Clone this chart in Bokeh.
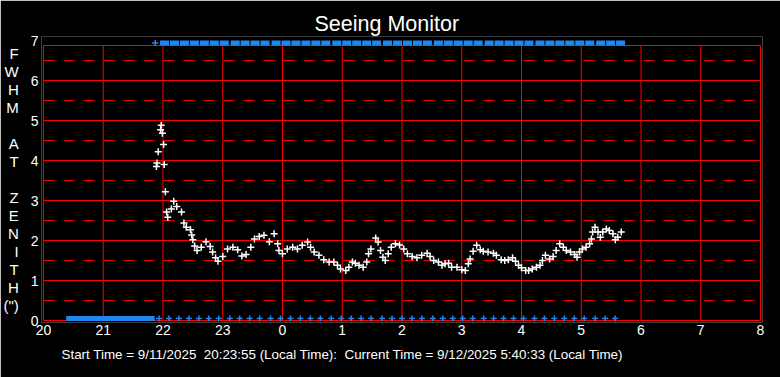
from bokeh.plotting import figure
from bokeh.models import Range1d, FixedTicker, Title
from bokeh.embed import file_html
from bokeh.resources import INLINE

# ---------------- data ----------------
# seeing measurements: local time in hours (24 = midnight, 25 = 1 am ...) and FWHM at zenith (arcsec)
seeing_hours = [
    21.89, 21.90, 21.92, 21.96, 21.97, 21.99, 22.01, 22.02, 22.04, 22.06,
    22.08, 22.14, 22.18, 22.23, 22.31, 22.35, 22.39, 22.46, 22.48, 22.50,
    22.53, 22.57, 22.64, 22.72, 22.79, 22.83, 22.88, 22.92, 23.00, 23.08,
    23.17, 23.25, 23.32, 23.39, 23.47, 23.53, 23.61, 23.69, 23.78, 23.86,
    23.92, 23.94, 24.00, 24.08, 24.17, 24.25, 24.33, 24.42, 24.47, 24.53,
    24.61, 24.69, 24.78, 24.86, 24.92, 24.97, 25.06, 25.11, 25.17, 25.22,
    25.28, 25.35, 25.41, 25.44, 25.48, 25.56, 25.60, 25.64, 25.68, 25.72,
    25.77, 25.82, 25.89, 25.96, 26.03, 26.09, 26.17, 26.25, 26.33, 26.42,
    26.47, 26.53, 26.61, 26.67, 26.72, 26.78, 26.83, 26.92, 27.00, 27.06,
    27.11, 27.14, 27.19, 27.25, 27.31, 27.36, 27.44, 27.53, 27.58, 27.66,
    27.72, 27.78, 27.85, 27.90, 27.95, 28.00, 28.07, 28.12, 28.18, 28.25,
    28.31, 28.35, 28.40, 28.47, 28.53, 28.58, 28.64, 28.70, 28.75, 28.82,
    28.89, 28.93, 28.97, 29.02, 29.08, 29.14, 29.17, 29.19, 29.23, 29.28,
    29.32, 29.36, 29.42, 29.47, 29.53, 29.57, 29.61, 29.67,
]
seeing_fwhm = [
    3.85, 3.94, 4.22, 4.77, 4.88, 4.68, 4.40, 3.90, 3.22, 2.71,
    2.58, 2.79, 2.98, 2.85, 2.71, 2.44, 2.33, 2.27, 2.14, 2.02,
    1.86, 1.75, 1.83, 1.97, 1.85, 1.71, 1.57, 1.48, 1.60, 1.79,
    1.83, 1.77, 1.61, 1.65, 1.83, 2.04, 2.10, 2.13, 1.97, 2.17,
    1.92, 1.75, 1.67, 1.79, 1.83, 1.79, 1.88, 1.96, 1.83, 1.71,
    1.63, 1.52, 1.46, 1.46, 1.38, 1.29, 1.25, 1.33, 1.46, 1.43,
    1.38, 1.33, 1.46, 1.67, 1.79, 2.06, 1.96, 1.75, 1.58, 1.50,
    1.67, 1.83, 1.92, 1.89, 1.79, 1.67, 1.60, 1.57, 1.63, 1.68,
    1.60, 1.50, 1.46, 1.38, 1.42, 1.43, 1.33, 1.33, 1.27, 1.25,
    1.42, 1.54, 1.73, 1.88, 1.77, 1.73, 1.71, 1.68, 1.63, 1.52,
    1.50, 1.52, 1.57, 1.48, 1.38, 1.32, 1.25, 1.25, 1.29, 1.33,
    1.38, 1.50, 1.63, 1.54, 1.60, 1.75, 1.92, 1.83, 1.75, 1.71,
    1.65, 1.58, 1.71, 1.79, 1.83, 1.92, 2.04, 2.21, 2.33, 2.21,
    2.08, 2.21, 2.29, 2.25, 2.17, 2.02, 2.08, 2.21,
]

# status samples (minutes after 20:00), shown as blue markers on the bottom and top rows
status_minutes = [
    116, 126, 136, 146, 156, 166, 176, 187, 197, 207, 217, 228, 238, 248, 258, 268,
    278, 289, 299, 309, 319, 329, 340, 350, 360, 370, 380, 391, 401, 411, 421, 431,
    442, 452, 462, 472, 482, 493, 503, 513, 523, 533, 543, 554, 564, 574,
]
dense_start_hour = 20.38   # continuous bottom bar (before the first measurement)
dense_end_hour = 21.86
top_first_hour = 21.87

x_ticks = list(range(20, 33))
x_tick_labels = {t: str(t % 24) for t in x_ticks}
y_ticks = list(range(0, 8))

title_text = "Seeing Monitor"
footer_text = ("Start Time = 9/11/2025\u00a0 20:23:55 (Local Time):\u00a0 "
               "Current Time = 9/12/2025 5:40:33 (Local Time)")
y_label_text = "F\nW\nH\nM\n \nA\nT\n \nZ\nE\nN\nI\nT\nH\n(\")"

# ---------------- styling ----------------
FONT = "Liberation Sans"
RED = "#ff0000"
BLUE = "#1e88f0"
TOP = 6.875

p = figure(width=780, height=377, output_backend="svg", toolbar_location=None,
           x_range=Range1d(20 - 2 / 60, 32 + 2 / 60),
           y_range=Range1d(-0.05, 7.1),
           min_border_left=38, min_border_right=18, min_border_top=36, min_border_bottom=55)
p.background_fill_color = "black"
p.border_fill_color = "black"
p.outline_line_color = None
p.xgrid.visible = False
p.ygrid.visible = False

# grid / frame lines
vx = list(range(20, 33))
p.segment(x0=vx, y0=[0] * len(vx), x1=vx, y1=[TOP] * len(vx), line_color=RED, line_width=1)
hy = [0, 1, 2, 3, 4, 5, 6, TOP]
p.segment(x0=[20] * len(hy), y0=hy, x1=[32] * len(hy), y1=hy, line_color=RED, line_width=1)
dy = [0.5 + i for i in range(7)]
p.segment(x0=[20] * len(dy), y0=dy, x1=[32] * len(dy), y1=dy, line_color=RED,
          line_width=1, line_dash="11 9")

# status markers
status_hours = [20 + m / 60 for m in status_minutes]
p.quad(left=[dense_start_hour], right=[dense_end_hour], bottom=[-0.0125], top=[0.1125],
       fill_color=BLUE, line_color=None)
p.scatter(status_hours, [0.05] * len(status_hours), marker="cross", size=6,
          line_color=BLUE, line_width=1.5)
p.rect(x=[h + 5.5 / 60 for h in status_hours], y=[6.94] * len(status_hours),
       width=9, height=5, width_units="screen", height_units="screen",
       fill_color=BLUE, line_color=None)
p.scatter([top_first_hour], [6.94], marker="cross", size=6, line_color=BLUE, line_width=1.5)

# seeing data
p.scatter(seeing_hours, seeing_fwhm, marker="cross", size=7, line_color="white", line_width=1.5)

# axes
for ax in (p.xaxis[0], p.yaxis[0]):
    ax.axis_line_color = None
    ax.major_tick_line_color = None
    ax.minor_tick_line_color = None
    ax.major_tick_out = 0
    ax.major_tick_in = 0
    ax.major_label_text_color = "white"
    ax.major_label_text_font = FONT
    ax.major_label_text_font_size = "14px"

p.xaxis[0].ticker = FixedTicker(ticks=x_ticks)
p.xaxis[0].major_label_overrides = x_tick_labels
p.xaxis[0].major_label_standoff = 2
p.yaxis[0].ticker = FixedTicker(ticks=y_ticks)
p.yaxis[0].major_label_standoff = 3
p.yaxis[0].axis_label = y_label_text
p.yaxis[0].axis_label_orientation = "horizontal"
p.yaxis[0].axis_label_text_color = "white"
p.yaxis[0].axis_label_text_font = FONT
p.yaxis[0].axis_label_text_font_size = "15px"
p.yaxis[0].axis_label_text_font_style = "normal"
p.yaxis[0].axis_label_standoff = 9
p.yaxis[0].axis_label_text_line_height = 1.06

p.title.text = title_text
p.title.text_color = "white"
p.title.text_font = FONT
p.title.text_font_size = "21.5px"
p.title.text_font_style = "normal"
p.title.align = "left"
p.title.offset = 273
p.title.standoff = 2

footer = Title(text=footer_text, align="left", offset=20, text_color="white",
               text_font=FONT, text_font_size="13.4px", text_font_style="normal", standoff=14)
p.add_layout(footer, "below")

open("out.html", "w").write(file_html(p, INLINE))
